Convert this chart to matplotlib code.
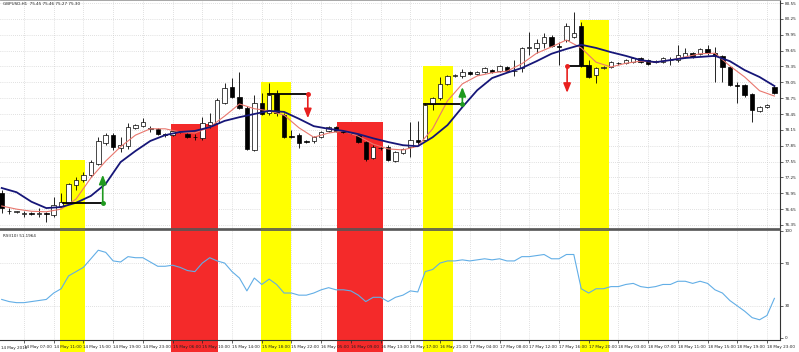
import matplotlib
matplotlib.use('Agg')
import matplotlib.pyplot as plt
import matplotlib.transforms as mtransforms
from matplotlib.patches import Rectangle

chart_title = 'GBPUSD,H1  75.45 75.46 75.27 75.30'
osc_title = 'RSI(10) 51.1964'

# hourly candles
opens = [76.96, 76.62, 76.60, 76.56, 76.57, 76.56, 76.57, 76.54, 76.71, 76.77,
         77.11, 77.20, 77.30, 77.51, 77.90, 78.05, 77.81, 77.84, 78.19, 78.22,
         78.17, 78.17, 78.07, 78.05, 78.12, 78.07, 78.02, 77.99, 78.24, 78.28,
         78.66, 78.96, 78.77, 78.56, 77.77, 78.66, 78.47, 78.83, 78.43, 78.03,
         78.05, 77.93, 77.94, 78.01, 78.13, 78.20, 78.12, 78.10, 78.05, 77.92,
         77.62, 77.81, 77.83, 77.56, 77.71, 77.83, 77.96, 77.96, 78.64, 78.75,
         79.02, 79.17, 79.17, 79.24, 79.21, 79.24, 79.28, 79.26, 79.34, 79.26,
         79.32, 79.70, 79.70, 79.79, 79.91, 79.73, 79.85, 79.91, 80.11, 79.38,
         79.19, 79.32, 79.34, 79.42, 79.41, 79.43, 79.51, 79.47, 79.45, 79.43,
         79.47, 79.47, 79.53, 79.60, 79.59, 79.68, 79.60, 79.55, 79.34, 78.99,
         79.00, 78.83, 78.51, 78.58, 78.96]
highs = [77.01, 76.67, 76.62, 76.61, 76.59, 76.67, 76.60, 76.88, 76.96, 77.14,
         77.26, 77.35, 77.58, 78.01, 78.09, 78.09, 78.01, 78.28, 78.26, 78.37,
         78.22, 78.19, 78.09, 78.15, 78.13, 78.09, 78.07, 78.39, 78.47, 78.75,
         79.04, 79.13, 79.24, 78.60, 78.81, 78.85, 79.04, 78.90, 78.47, 78.15,
         78.09, 77.95, 78.03, 78.13, 78.22, 78.22, 78.13, 78.11, 78.07, 77.94,
         77.86, 77.84, 77.86, 77.75, 77.81, 78.30, 78.32, 78.66, 78.77, 79.15,
         79.19, 79.21, 79.30, 79.26, 79.26, 79.34, 79.30, 79.38, 79.36, 79.47,
         79.72, 80.00, 79.87, 79.98, 79.94, 79.81, 80.17, 80.38, 80.19, 79.47,
         79.34, 79.36, 79.45, 79.43, 79.49, 79.53, 79.53, 79.49, 79.47, 79.53,
         79.53, 79.76, 79.70, 79.62, 79.70, 79.76, 79.72, 79.57, 79.36, 79.06,
         79.02, 78.85, 78.60, 78.64, 78.98]
lows = [76.58, 76.56, 76.58, 76.50, 76.54, 76.50, 76.41, 76.50, 76.69, 76.75,
        77.01, 77.16, 77.26, 77.49, 77.86, 77.77, 77.73, 77.79, 78.17, 78.20,
        78.11, 78.05, 78.01, 78.03, 78.09, 77.99, 77.96, 77.96, 78.19, 78.26,
        78.64, 78.75, 78.55, 77.77, 77.75, 78.43, 78.43, 78.41, 77.99, 77.99,
        77.81, 77.90, 77.90, 77.99, 78.11, 78.11, 78.09, 78.07, 77.90, 77.56,
        77.60, 77.77, 77.56, 77.54, 77.69, 77.64, 77.86, 77.94, 78.53, 78.71,
        79.00, 79.15, 79.13, 79.19, 79.19, 79.22, 79.22, 79.24, 79.24, 79.17,
        79.24, 79.57, 79.60, 79.70, 79.72, 79.38, 79.81, 79.89, 79.34, 79.13,
        79.04, 79.30, 79.32, 79.38, 79.40, 79.41, 79.41, 79.38, 79.42, 79.41,
        79.38, 79.43, 79.51, 79.51, 79.57, 79.57, 79.06, 79.06, 78.98, 78.66,
        78.77, 78.30, 78.49, 78.56, 78.83]
closes = [76.67, 76.61, 76.60, 76.57, 76.56, 76.57, 76.55, 76.73, 76.79, 77.12,
          77.20, 77.30, 77.54, 77.94, 78.05, 77.83, 77.86, 78.20, 78.24, 78.30,
          78.18, 78.07, 78.06, 78.13, 78.11, 78.01, 78.01, 78.28, 78.30, 78.71,
          78.94, 78.77, 78.56, 77.79, 78.66, 78.45, 78.81, 78.47, 78.01, 78.02,
          77.90, 77.92, 78.01, 78.11, 78.20, 78.13, 78.11, 78.09, 77.92, 77.60,
          77.83, 77.80, 77.58, 77.73, 77.79, 77.96, 77.92, 78.62, 78.75, 79.02,
          79.17, 79.18, 79.24, 79.21, 79.24, 79.32, 79.24, 79.36, 79.26, 79.27,
          79.70, 79.71, 79.79, 79.91, 79.74, 79.72, 80.11, 79.98, 79.38, 79.15,
          79.32, 79.33, 79.43, 79.41, 79.47, 79.51, 79.43, 79.40, 79.44, 79.51,
          79.48, 79.57, 79.60, 79.53, 79.68, 79.60, 79.55, 79.34, 79.00, 78.98,
          78.81, 78.53, 78.58, 78.62, 78.85]

# moving averages, read every second bar
ma_x = list(range(0, 105, 2))
ma_slow = [77.05, 76.97, 76.79, 76.67, 76.69, 76.77, 76.90, 77.13, 77.54, 77.75,
           77.94, 78.05, 78.11, 78.13, 78.20, 78.32, 78.39, 78.45, 78.51, 78.49,
           78.36, 78.22, 78.17, 78.13, 78.07, 77.99, 77.92, 77.86, 77.84, 78.01,
           78.24, 78.58, 78.90, 79.13, 79.23, 79.32, 79.45, 79.59, 79.68, 79.76,
           79.70, 79.62, 79.55, 79.47, 79.43, 79.47, 79.51, 79.53, 79.55, 79.45,
           79.28, 79.15, 78.98]
ma_fast = [76.71, 76.65, 76.61, 76.60, 76.65, 76.84, 77.24, 77.56, 77.83, 78.05,
           78.17, 78.17, 78.11, 78.09, 78.20, 78.41, 78.64, 78.55, 78.51, 78.43,
           78.19, 78.01, 78.09, 78.13, 78.03, 77.88, 77.79, 77.77, 77.84, 78.17,
           78.70, 79.02, 79.17, 79.23, 79.26, 79.40, 79.60, 79.72, 79.85, 79.70,
           79.43, 79.34, 79.41, 79.45, 79.43, 79.47, 79.53, 79.59, 79.60, 79.36,
           79.15, 78.89, 78.79]

rsi = [36, 34, 33, 33, 34, 35, 36, 42, 46, 58,
       62, 66, 74, 82, 80, 72, 71, 76, 75, 75,
       71, 67, 67, 68, 66, 63, 62, 70, 75, 72,
       70, 62, 56, 44, 56, 50, 55, 50, 42, 42,
       40, 40, 42, 45, 47, 45, 45, 44, 40, 34,
       38, 38, 34, 38, 40, 44, 43, 62, 64, 70,
       72, 72, 73, 72, 73, 74, 73, 74, 72, 72,
       76, 76, 77, 78, 74, 74, 78, 78, 46, 42,
       46, 46, 48, 48, 50, 51, 48, 47, 48, 50,
       50, 53, 53, 51, 53, 51, 45, 42, 35, 30,
       25, 19, 17, 21, 37]

price_ticks = [76.35, 76.65, 76.95, 77.25, 77.55, 77.85, 78.15, 78.45,
               78.75, 79.05, 79.35, 79.65, 79.95, 80.25, 80.55]
rsi_ticks = [0, 30, 70, 100]

time_ticks = list(range(3, 105, 4))
time_labels = ['14 May 07:00', '14 May 11:00', '14 May 15:00', '14 May 19:00', '14 May 23:00',
               '15 May 06:00', '15 May 10:00', '15 May 14:00', '15 May 18:00', '15 May 22:00',
               '16 May 05:00', '16 May 09:00', '16 May 13:00', '16 May 17:00', '16 May 21:00',
               '17 May 04:00', '17 May 08:00', '17 May 12:00', '17 May 16:00', '17 May 20:00',
               '18 May 03:00', '18 May 07:00', '18 May 11:00', '18 May 15:00', '18 May 19:00',
               '18 May 23:00']
first_label = '14 May 2018'

# highlighted zones (bar range, top price)
zone_start = [7.85, 22.8, 34.9, 45.1, 56.7, 77.8]
zone_end = [11.2, 29.1, 38.9, 51.3, 60.7, 81.7]
zone_top = [77.58, 78.26, 79.06, 78.30, 79.36, 80.23]
zone_color = ['#ffff00', '#f42a2a', '#ffff00', '#f42a2a', '#ffff00', '#ffff00']

# signal levels with arrows
sig_x0 = [8.25, 35.8, 56.8, 76.1]
sig_x1 = [13.6, 41.2, 62.0, 78.8]
sig_price = [76.77, 78.83, 78.64, 79.36]
arrow_x = [13.6, 41.2, 62.0, 76.1]
arrow_to = [77.30, 78.37, 78.96, 78.85]
arrow_color = ['#1f9a1f', '#e8201e', '#1f9a1f', '#e8201e']

fig = plt.figure(figsize=(7.99, 3.52), dpi=100)
ax = fig.add_axes([0, 0.3494, 0.9762, 0.6506])
ax2 = fig.add_axes([0, 0.0341, 0.9762, 0.3125], sharex=ax)

xmin, xmax = -0.229, 104.75
ax.set_xlim(xmin, xmax)
ax.set_ylim(76.274, 80.607)
ax2.set_ylim(-1.9, 100.9)

grid_kw = dict(color='#c4c4c4', lw=0.5, ls=(0, (1, 2)), zorder=0.2)
for p in price_ticks:
    ax.axhline(p, **grid_kw)
for t in time_ticks:
    ax.axvline(t, **grid_kw)
    ax2.axvline(t, **grid_kw)
for lv in [30, 70]:
    ax2.axhline(lv, **grid_kw)

# zones: main panel part, then down through the oscillator to the bottom edge
fig_y = mtransforms.blended_transform_factory(ax2.transData, fig.transFigure)
for s, e, top, c in zip(zone_start, zone_end, zone_top, zone_color):
    ax.add_patch(Rectangle((s, 76.0), e - s, top - 76.0, color=c, lw=0, zorder=0.5))
    ax2.add_patch(Rectangle((s, 0), e - s, 0.35, transform=fig_y, color=c, lw=0,
                            zorder=0.5, clip_on=False))

# candles
for i in range(len(opens)):
    o, h, l, c = opens[i], highs[i], lows[i], closes[i]
    ax.vlines(i, l, h, color='black', lw=0.6, zorder=3)
    bottom = min(o, c)
    height = max(abs(c - o), 0.006)
    face = 'white' if c >= o else 'black'
    ax.add_patch(Rectangle((i - 0.3, bottom), 0.6, height, facecolor=face,
                           edgecolor='black', lw=0.5, zorder=4))

ax.plot(ma_x, ma_fast, color='#e9776e', lw=0.8, zorder=5)
ax.plot(ma_x, ma_slow, color='#161678', lw=1.3, zorder=5)

for x0, x1, p, ax_, to, col in zip(sig_x0, sig_x1, sig_price, arrow_x, arrow_to, arrow_color):
    ax.plot([x0, x1], [p, p], color='black', lw=1.3, zorder=6)
    ax.annotate('', xy=(ax_, to), xytext=(ax_, p),
                arrowprops=dict(arrowstyle='-|>,head_length=0.55,head_width=0.22',
                                color=col, lw=1.2, shrinkA=0, shrinkB=0), zorder=7)
    ax.plot([ax_], [p], 'o', color=col, ms=2.5, zorder=7)

ax2.plot(range(len(rsi)), rsi, color='#62aee6', lw=0.8, zorder=5)

# axes dressing
for a in (ax, ax2):
    a.spines['left'].set_visible(False)
    a.spines['right'].set_color('#333333')
    a.spines['right'].set_linewidth(0.8)
    a.yaxis.tick_right()
    a.tick_params(axis='y', direction='out', length=2, width=0.5, pad=1.5,
                  labelsize=3, colors='#222222')
ax.spines['top'].set_color('#999999')
ax.spines['top'].set_linewidth(0.6)
ax.spines['bottom'].set_color('#555555')
ax.spines['bottom'].set_linewidth(1.2)
ax2.spines['top'].set_color('#555555')
ax2.spines['top'].set_linewidth(1.2)
ax2.spines['bottom'].set_color('#333333')
ax2.spines['bottom'].set_linewidth(0.8)

ax.set_yticks(price_ticks)
ax.set_yticklabels(['%.2f' % p for p in price_ticks])
ax2.set_yticks(rsi_ticks)
ax2.set_yticklabels([str(v) for v in rsi_ticks])

ax.tick_params(axis='x', bottom=False, labelbottom=False)
ax2.set_xticks(time_ticks)
ax2.set_xticklabels(time_labels, ha='left')
ax2.tick_params(axis='x', direction='out', length=2, width=0.5, pad=1.5,
                labelsize=3, colors='#222222')
ax2.text(0.001, -0.075, first_label, transform=ax2.transAxes, fontsize=3,
         color='#222222', ha='left', va='center', clip_on=False)

ax.text(0.004, 0.992, chart_title, transform=ax.transAxes, fontsize=3,
        va='top', ha='left', color='#222222', zorder=8)
ax2.text(0.004, 0.965, osc_title, transform=ax2.transAxes, fontsize=3,
         va='top', ha='left', color='#222222', zorder=8)

fig.savefig('out.png', dpi=100)
